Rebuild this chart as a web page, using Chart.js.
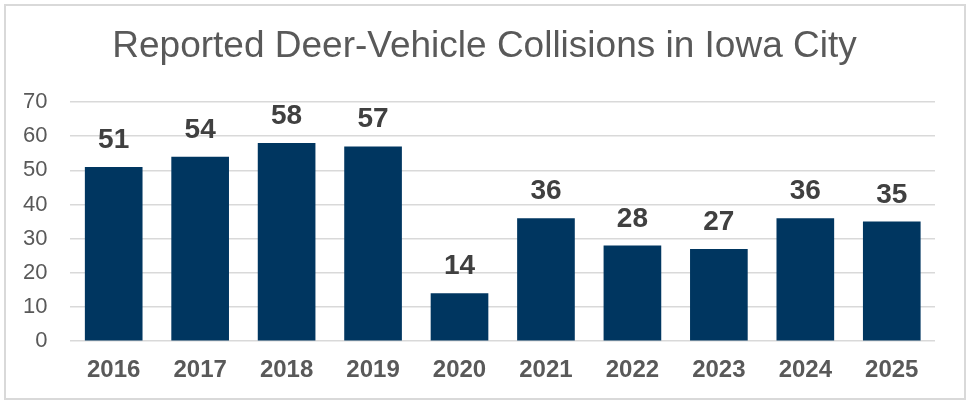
<!DOCTYPE html>
<html>
<head>
<meta charset="utf-8">
<script src="https://cdn.jsdelivr.net/npm/chart.js@4"></script>
<style>
  html, body { margin: 0; padding: 0; background: #fff; }
  #wrap { position: relative; width: 969px; height: 402px; }
  #frame { position: absolute; left: 4px; top: 4px; width: 962px; height: 396px;
           box-sizing: border-box; border: 2px solid #d9d9d9; pointer-events: none; }
</style>
</head>
<body>
<div id="wrap">
  <canvas id="myChart" width="969" height="402"></canvas>
  <div id="frame"></div>
</div>
<script>
// values
const years = ['2016', '2017', '2018', '2019', '2020', '2021', '2022', '2023', '2024', '2025']
const collisions = [51, 54, 58, 57, 14, 36, 28, 27, 36, 35]
const chartTitle = 'Reported Deer-Vehicle Collisions in Iowa City'

const fontFamily = '"Liberation Sans", Arial, sans-serif'

// numbers above each bar, plus the title centred on the whole canvas
const barLabels = {
  id: 'barLabels',
  afterDatasetsDraw(chart) {
    const ctx = chart.ctx
    const meta = chart.getDatasetMeta(0)
    ctx.save()
    ctx.font = 'bold 28px ' + fontFamily
    ctx.fillStyle = '#404040'
    ctx.textAlign = 'center'
    ctx.textBaseline = 'alphabetic'
    meta.data.forEach(function(bar, i) {
      ctx.fillText(collisions[i], bar.x, bar.y - 19)
    })
    ctx.font = '37px ' + fontFamily
    ctx.fillStyle = '#595959'
    ctx.textBaseline = 'middle'
    ctx.fillText(chartTitle, chart.width / 2, 47)
    ctx.restore()
  }
}

const ctx = document.getElementById('myChart')
const myBarChart = new Chart(ctx, {
  type: 'bar',
  data: {
    labels: years,
    datasets: [{
      label: 'Collisions',
      data: collisions,
      backgroundColor: '#003660',
      barPercentage: 0.667,
      categoryPercentage: 1
    }]
  },
  options: {
    responsive: false,
    animation: false,
    layout: { padding: { left: 0, right: 34, top: 102, bottom: 10 } },
    plugins: {
      legend: { display: false },
      tooltip: { enabled: false },
      title: { display: false }
    },
    scales: {
      x: {
        grid: { display: false },
        border: { display: false },
        ticks: {
          color: '#595959',
          padding: 7,
          font: { family: fontFamily, size: 24, weight: 'bold' }
        }
      },
      y: {
        min: 0,
        max: 70,
        grid: { color: '#d9d9d9', lineWidth: 1.5, drawTicks: false },
        border: { display: false },
        ticks: {
          stepSize: 10,
          color: '#595959',
          padding: 23,
          font: { family: fontFamily, size: 22 }
        }
      }
    }
  },
  plugins: [barLabels]
})
</script>
</body>
</html>
